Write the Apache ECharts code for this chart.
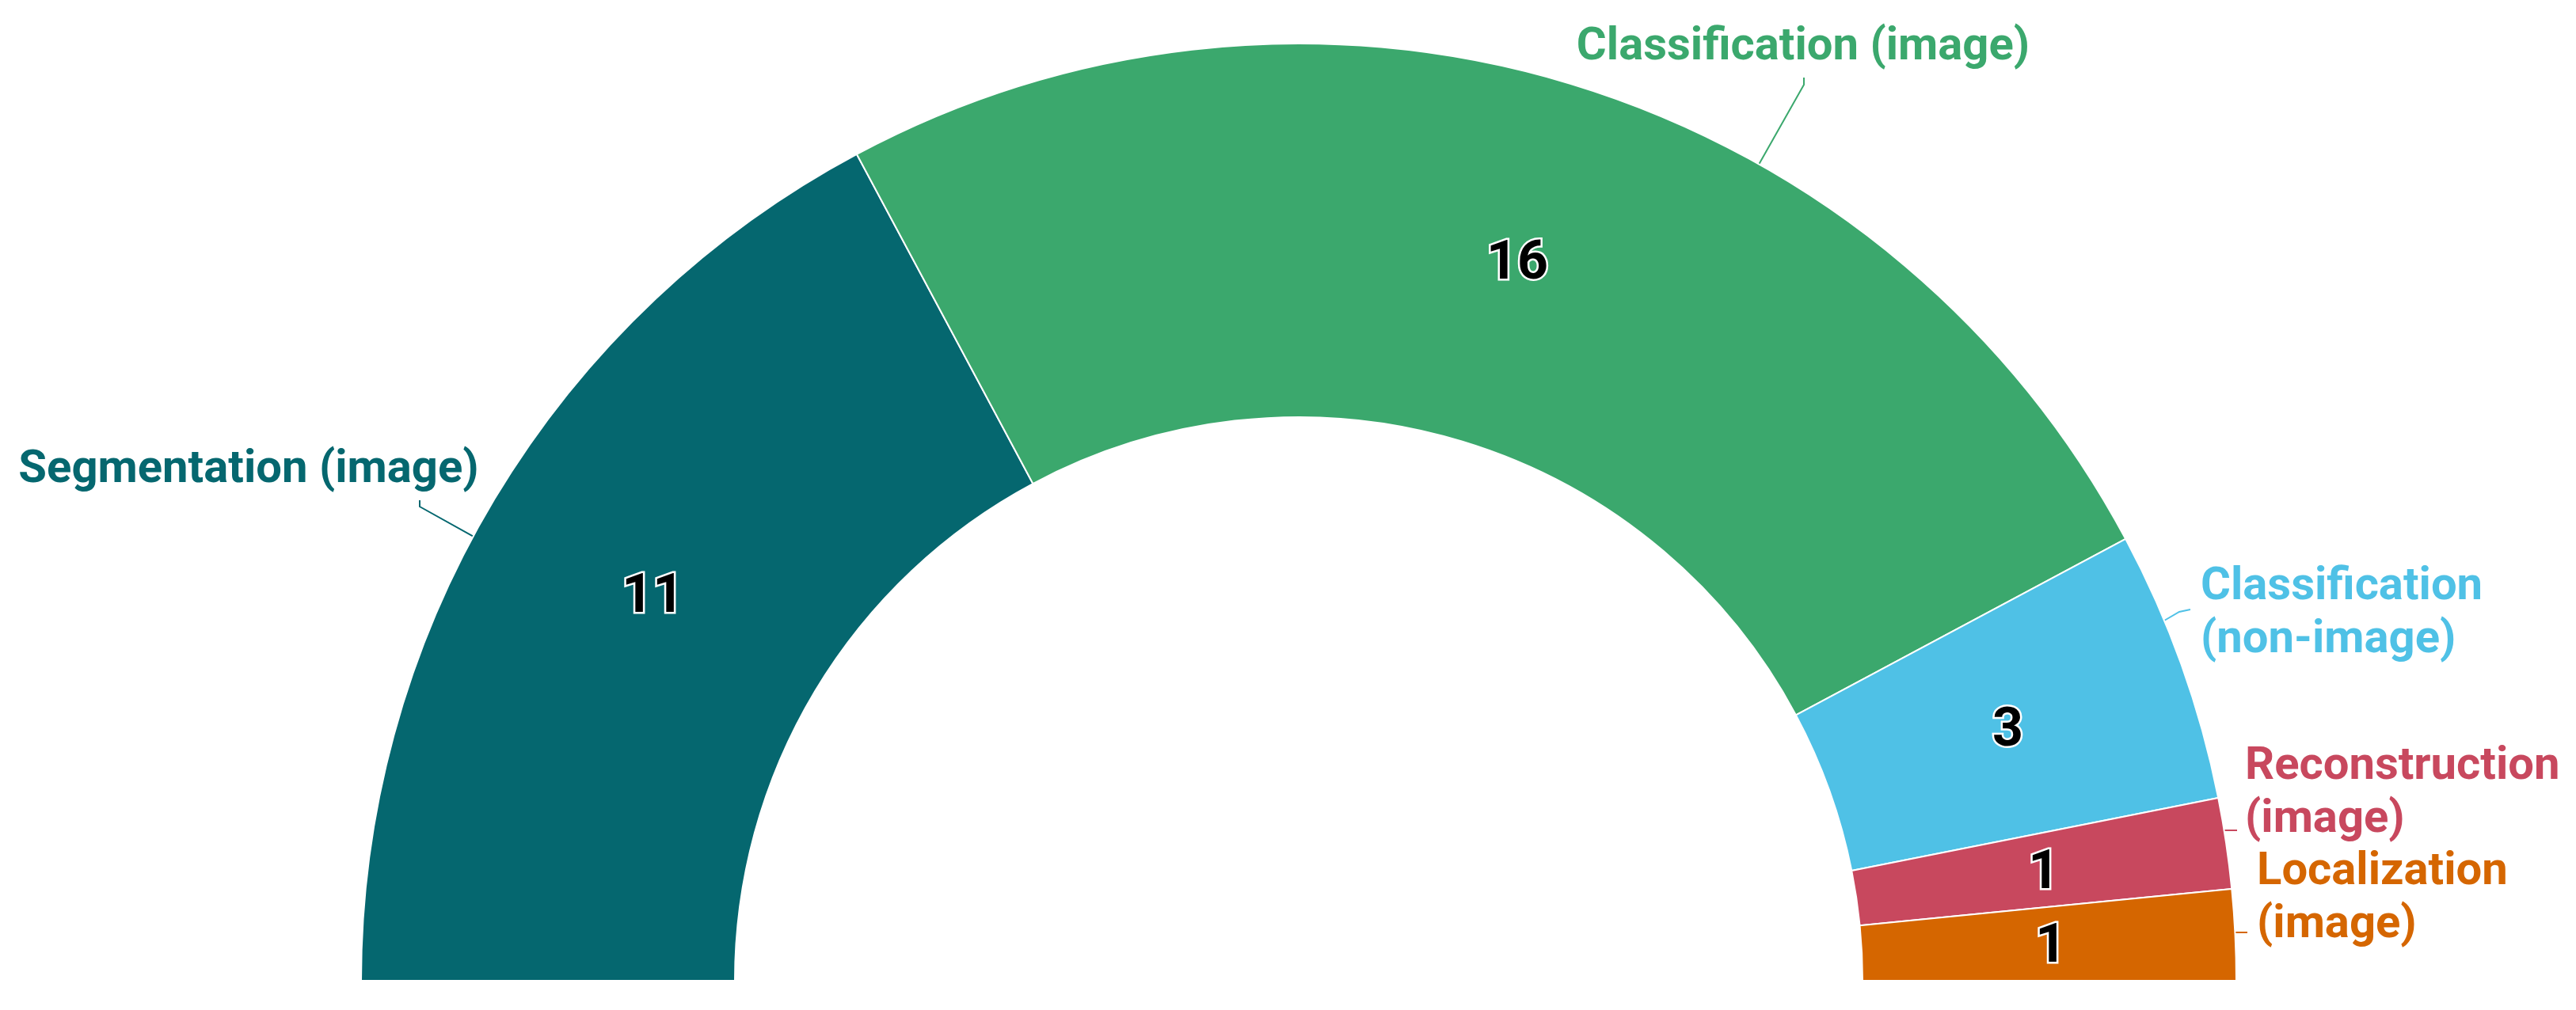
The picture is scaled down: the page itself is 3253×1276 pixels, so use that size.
<!DOCTYPE html>
<html>
<head>
<meta charset="utf-8">
<script src="https://cdn.jsdelivr.net/npm/echarts@6/dist/echarts.min.js"></script>
<style>
html,body{margin:0;padding:0;background:#fff;}
#chart{width:3253px;height:1276px;}
</style>
</head>
<body>
<div id="chart"></div>
<script>
// ---- data ----
const categories = ['Segmentation (image)', 'Classification (image)', 'Classification (non-image)', 'Reconstruction (image)', 'Localization (image)'];
const labelTexts = ['Segmentation (image)', 'Classification (image)', 'Classification\n(non-image)', 'Reconstruction\n(image)', 'Localization\n(image)'];
const counts = [11, 16, 3, 1, 1];
const colors = ['#05676F', '#3BA86D', '#4FC1E6', '#C8485E', '#D56600'];

// ---- layout (not data) ----
const CX = 1640, CY = 1239, R_IN = 712, R_OUT = 1184;
const labelPlace = [
  {x: 314,  y: 594,  align: 'center', lineAngle: 151.7, pts: [[530, 640], [530, 632]]},
  {x: 2277, y: 60,   align: 'center', lineAngle: 60.6,  pts: [[2278, 107], [2278, 98]]},
  {x: 2779, y: 776,  align: 'left',   lineAngle: 22.6,  pts: [[2752, 773], [2766, 770]]},
  {x: 2835, y: 1003, align: 'left',   lineAngle: 9.24,  pts: [[2815, 1049], [2825, 1049]]},
  {x: 2850, y: 1136, align: 'left',   lineAngle: 2.95,  pts: [[2830, 1178], [2838, 1178]]}
];

const chart = echarts.init(document.getElementById('chart'), null, {renderer: 'canvas'});

const segData = categories.map((c, i) => ({
  name: c, value: counts[i], itemStyle: {color: colors[i]}
}));
const nameData = categories.map((c, i) => ({
  name: c, value: counts[i],
  label: {color: colors[i]},
  labelLine: {lineStyle: {color: colors[i]}}
}));

const option = {
  backgroundColor: '#ffffff',
  animation: false,
  series: [
    {
      type: 'pie',
      center: [CX, CY],
      radius: [R_IN, R_OUT],
      startAngle: 180,
      endAngle: 0,
      clockwise: true,
      silent: true,
      data: segData,
      itemStyle: {borderColor: '#ffffff', borderWidth: 2},
      label: {
        show: true,
        position: 'inside',
        formatter: '{c}',
        fontFamily: 'Roboto',
        fontWeight: 'bold',
        fontSize: 68,
        color: '#000000',
        textBorderColor: '#ffffff',
        textBorderWidth: 5,
        offset: [0, 6]
      },
      labelLine: {show: false}
    },
    {
      type: 'pie',
      center: [CX, CY],
      radius: [R_IN, R_OUT],
      startAngle: 180,
      endAngle: 0,
      clockwise: true,
      silent: true,
      avoidLabelOverlap: false,
      data: nameData,
      itemStyle: {color: 'rgba(0,0,0,0)', borderWidth: 0},
      label: {
        show: true,
        position: 'outside',
        formatter: p => labelTexts[p.dataIndex],
        fontFamily: 'Roboto',
        fontWeight: 'bold',
        fontSize: 58,
        lineHeight: 67
      },
      labelLine: {show: true, length: 20, length2: 10, lineStyle: {width: 2}},
      labelLayout: function (params) {
        const lp = labelPlace[params.dataIndex];
        const a = lp.lineAngle * Math.PI / 180;
        const start = [CX + R_OUT * Math.cos(a), CY - R_OUT * Math.sin(a)];
        return {
          x: lp.x,
          y: lp.y,
          align: lp.align,
          verticalAlign: 'middle',
          labelLinePoints: [start, lp.pts[0], lp.pts[1]]
        };
      }
    }
  ]
};
chart.setOption(option);
</script>
</body>
</html>
